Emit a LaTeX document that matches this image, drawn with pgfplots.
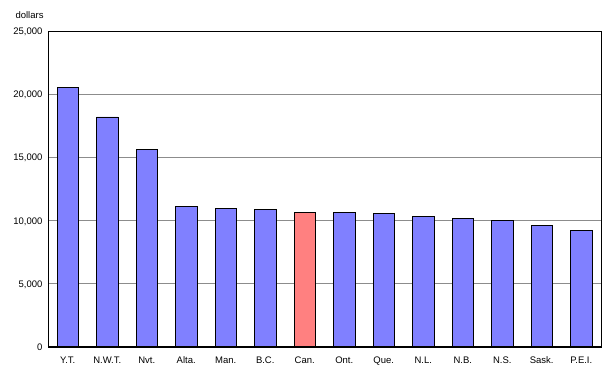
\documentclass[border=0pt]{standalone}
\usepackage{pgfplots}
\pgfplotsset{compat=1.18}
\usepackage{fontspec}
\setmainfont{Liberation Sans}
\definecolor{barblue}{HTML}{8080FF}
\definecolor{barred}{HTML}{FF8080}
\definecolor{gridgray}{HTML}{8C8C8C}
\begin{document}
\begin{tikzpicture}
\path[use as bounding box] (0pt,0pt) rectangle (610pt,386pt);
\begin{axis}[
  at={(48pt,39pt)}, anchor=south west,
  scale only axis, width=553pt, height=316pt,
  xmin=-0.5, xmax=13.5, ymin=0, ymax=25000,
  ytick={0,5000,10000,15000,20000,25000},
  /pgf/number format/fixed,
  /pgf/number format/1000 sep={,},
  /pgf/number format/assume math mode=true,
  scaled y ticks=false,
  xtick={0,...,13},
  xticklabels={Y.T.,N.W.T.,Nvt.,Alta.,Man.,B.C.,Can.,Ont.,Que.,N.L.,N.B.,N.S.,Sask.,P.E.I.},
  tick style={draw=none},
  ymajorgrids, grid style={gridgray, line width=0.8pt},
  axis line style={black, line width=0.8pt},
  ticklabel style={font=\fontsize{9.5}{10}\selectfont},
  typeset ticklabels with strut,
  yticklabel style={xshift=-2pt, yshift=-1.5pt},
  xticklabel style={yshift=-6pt},
  bar width=21.5pt,
  clip=false,
]
\addplot[ybar, fill=barblue, draw=black, line width=0.8pt] coordinates {
  (0,20500) (1,18200) (2,15600) (3,11100) (4,10950) (5,10860)
  (7,10620) (8,10540) (9,10310) (10,10150) (11,10000) (12,9600) (13,9200)};
\addplot[ybar, fill=barred, draw=black, line width=0.8pt] coordinates {(6,10630)};
\draw[black, line width=1.8pt] (axis cs:-0.5,0) -- (axis cs:13.5,0);
\node[anchor=base west, font=\fontsize{9.5}{10}\selectfont] at (axis cs:-0.5,25000) [xshift=-36pt, yshift=12pt] {dollars};
\end{axis}
\end{tikzpicture}
\end{document}
